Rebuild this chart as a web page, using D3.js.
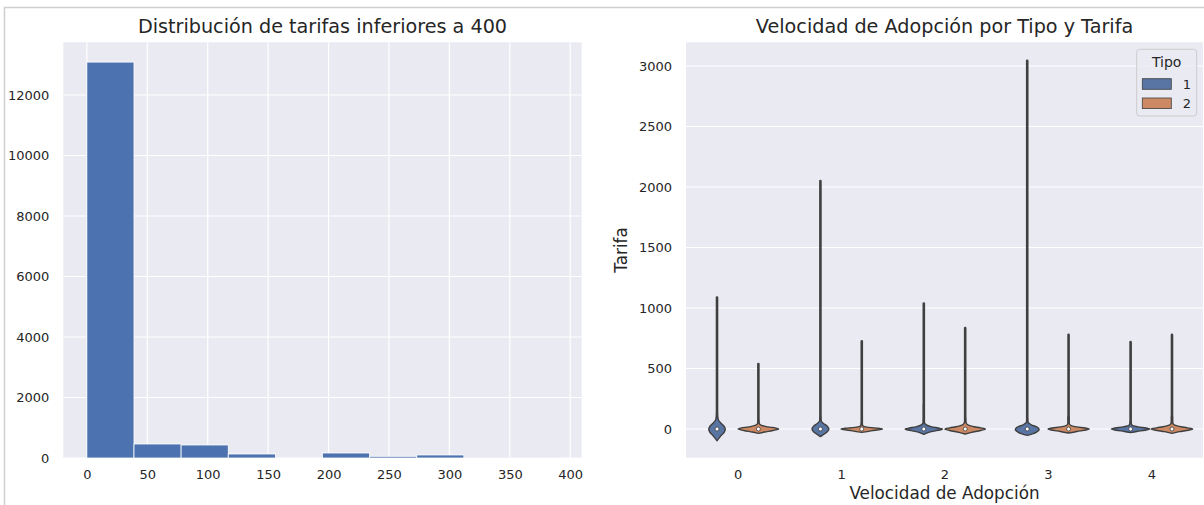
<!DOCTYPE html>
<html>
<head>
<meta charset="utf-8">
<script src="https://cdn.jsdelivr.net/npm/d3@7"></script>
<style>
  body { margin: 0; background: #fff; }
  svg { display: block; font-family: "DejaVu Sans", sans-serif; }
  .tick text { fill: #262626; }
</style>
</head>
<body>
<div id="chart"></div>
<script>
// ---- Histogram: tarifas < 400 ----
const binEdges = [0, 39, 78, 117, 156, 195, 234, 273, 312, 351, 390];
const binCounts = [13088, 463, 430, 132, 0, 165, 56, 100, 10, 6];
const histXTicks = [0, 50, 100, 150, 200, 250, 300, 350, 400];
const histYTicks = [0, 2000, 4000, 6000, 8000, 10000, 12000];

// ---- Violin: Velocidad de Adopción x Tipo ----
const speeds = [0, 1, 2, 3, 4];
const tipos = ["1", "2"];
const violinYTicks = [0, 500, 1000, 1500, 2000, 2500, 3000];
// highest Tarifa reached by each violin's thin tail
const tailTop1 = [1087, 2050, 1037, 3043, 718];
const tailTop2 = [537, 724, 834, 779, 779];
const medians1 = [0, 0, 0, 0, 0];
const medians2 = [0, 0, 0, 0, 0];
// body outline near zero: [Tarifa, relative half width]
const body1 = [
  [[-97, 0], [-75, 0.1], [-50, 0.22], [-25, 0.35], [0, 0.4], [25, 0.33], [50, 0.18], [75, 0.07], [100, 0.03], [150, 0.015]],
  [[-63, 0], [-45, 0.15], [-25, 0.32], [0, 0.41], [25, 0.32], [45, 0.15], [69, 0.03], [100, 0.015]],
  [[-44, 0], [-30, 0.2], [-15, 0.55], [-3, 0.88], [0, 0.9], [8, 0.7], [20, 0.35], [35, 0.12], [47, 0.04], [80, 0.02], [200, 0.02]],
  [[-52, 0], [-40, 0.25], [-25, 0.45], [-8, 0.57], [5, 0.55], [20, 0.42], [35, 0.2], [55, 0.04], [90, 0.015]],
  [[-30, 0], [-20, 0.3], [-10, 0.7], [0, 0.93], [8, 0.75], [18, 0.35], [33, 0.06], [60, 0.02]],
];
const body2 = [
  [[-36, 0], [-25, 0.3], [-12, 0.7], [0, 0.98], [8, 0.85], [18, 0.45], [30, 0.15], [44, 0.04], [70, 0.02]],
  [[-28, 0], [-15, 0.45], [-4, 0.9], [0, 1.0], [6, 0.8], [14, 0.35], [25, 0.06], [50, 0.02]],
  [[-41, 0], [-28, 0.3], [-12, 0.75], [0, 0.98], [10, 0.75], [22, 0.35], [35, 0.12], [52, 0.04], [90, 0.02]],
  [[-33, 0], [-20, 0.4], [-8, 0.85], [0, 1.0], [8, 0.8], [18, 0.4], [28, 0.12], [41, 0.04], [100, 0.03]],
  [[-36, 0], [-22, 0.35], [-10, 0.8], [0, 1.0], [10, 0.75], [22, 0.35], [35, 0.1], [47, 0.04], [100, 0.03]],
];

const W = 1204, H = 505;
const panelBg = "#eaeaf2";
const textCol = "#262626";
const outline = "#3f3f3f";
const tipoColors = ["#5975a4", "#cc8963"];

const svg = d3.select("#chart").append("svg").attr("width", W).attr("height", H);

// notebook cell border
svg.append("path")
  .attr("d", `M4.5,${H}V7.5H${W}`)
  .attr("fill", "none")
  .attr("stroke", "#cfcfcf")
  .attr("stroke-width", 1.5);

// ================= left: histogram =================
const hist = { left: 63.3, right: 581.7, top: 42.3, bottom: 458 };
const hg = svg.append("g");

const xMax = binEdges[binEdges.length - 1];
const hx = d3.scaleLinear()
  .domain([-0.05 * xMax, 1.05 * xMax])
  .range([hist.left, hist.right]);
const hy = d3.scaleLinear()
  .domain([0, d3.max(binCounts) * 1.05])
  .range([hist.bottom, hist.top]);

hg.append("rect")
  .attr("x", hist.left).attr("y", hist.top)
  .attr("width", hist.right - hist.left).attr("height", hist.bottom - hist.top)
  .attr("fill", panelBg);

// grid
hg.append("g").selectAll("line").data(histXTicks).join("line")
  .attr("x1", (d) => hx(d)).attr("x2", (d) => hx(d))
  .attr("y1", hist.top).attr("y2", hist.bottom)
  .attr("stroke", "#fff").attr("stroke-width", 1.2);
hg.append("g").selectAll("line").data(histYTicks).join("line")
  .attr("x1", hist.left).attr("x2", hist.right)
  .attr("y1", (d) => hy(d)).attr("y2", (d) => hy(d))
  .attr("stroke", "#fff").attr("stroke-width", 1.2);

// bars
hg.append("g").selectAll("rect").data(binCounts).join("rect")
  .attr("x", (d, i) => hx(binEdges[i]))
  .attr("width", (d, i) => hx(binEdges[i + 1]) - hx(binEdges[i]))
  .attr("y", (d) => hy(d))
  .attr("height", (d) => hy(0) - hy(d))
  .attr("fill", "#4c72b0")
  .attr("stroke", "#fff")
  .attr("stroke-width", d => d > 0 ? 0.8 : 0);

// axes
const hxAxis = hg.append("g")
  .attr("transform", `translate(0,${hist.bottom})`)
  .call(d3.axisBottom(hx).tickValues(histXTicks).tickSize(0).tickPadding(12));
const hyAxis = hg.append("g")
  .attr("transform", `translate(${hist.left},0)`)
  .call(d3.axisLeft(hy).tickValues(histYTicks).tickSize(0).tickPadding(14).tickFormat(d3.format("d")));
[hxAxis, hyAxis].forEach((a) => {
  a.select(".domain").remove();
  a.selectAll("text").attr("font-size", 13).attr("font-family", "DejaVu Sans");
});

hg.append("text")
  .attr("x", (hist.left + hist.right) / 2).attr("y", 33)
  .attr("text-anchor", "middle")
  .attr("font-size", 19.2).attr("fill", textCol)
  .text("Distribución de tarifas inferiores a 400");

// ================= right: violins =================
const vio = { left: 686, right: 1203, top: 42.3, bottom: 457.7 };
const vg = svg.append("g");

const vx = d3.scaleLinear().domain([-0.5, speeds.length - 0.5]).range([vio.left, vio.right]);
const vy = d3.scaleLinear().domain([-237, 3196]).range([vio.bottom, vio.top]);
const halfW = (vx(0.4) - vx(0)) / 2;
const dodge = [-0.2, 0.2];

vg.append("rect")
  .attr("x", vio.left).attr("y", vio.top)
  .attr("width", vio.right - vio.left).attr("height", vio.bottom - vio.top)
  .attr("fill", panelBg);

vg.append("g").selectAll("line").data(violinYTicks).join("line")
  .attr("x1", vio.left).attr("x2", vio.right)
  .attr("y1", (d) => vy(d)).attr("y2", (d) => vy(d))
  .attr("stroke", "#fff").attr("stroke-width", 1.2);

const violins = [];
speeds.forEach((s, i) => {
  violins.push({ speed: s, tipo: 0, body: body1[i], top: tailTop1[i], med: medians1[i] });
  violins.push({ speed: s, tipo: 1, body: body2[i], top: tailTop2[i], med: medians2[i] });
});

const vGroups = vg.append("g").selectAll("g").data(violins).join("g");

// thin tail
vGroups.append("line")
  .attr("x1", (d) => vx(d.speed + dodge[d.tipo]))
  .attr("x2", (d) => vx(d.speed + dodge[d.tipo]))
  .attr("y1", (d) => vy(0)).attr("y2", (d) => vy(d.top))
  .attr("stroke", outline).attr("stroke-width", 2.6)
  .attr("stroke-linecap", "round");

// body
vGroups.append("path")
  .attr("d", (d) => {
    const cx = vx(d.speed + dodge[d.tipo]);
    return d3.area()
      .curve(d3.curveCatmullRom)
      .y((p) => vy(p[0]))
      .x0((p) => cx - p[1] * halfW)
      .x1((p) => cx + p[1] * halfW)(d.body);
  })
  .attr("fill", (d) => tipoColors[d.tipo])
  .attr("stroke", outline).attr("stroke-width", 1.4)
  .attr("stroke-linejoin", "round");

// median dot
vGroups.append("circle")
  .attr("cx", (d) => vx(d.speed + dodge[d.tipo]))
  .attr("cy", (d) => vy(d.med))
  .attr("r", 2)
  .attr("fill", "#fff")
  .attr("stroke", outline).attr("stroke-width", 0.8);

const vxAxis = vg.append("g")
  .attr("transform", `translate(0,${vio.bottom})`)
  .call(d3.axisBottom(vx).tickValues(speeds).tickSize(0).tickPadding(12).tickFormat(d3.format("d")));
const vyAxis = vg.append("g")
  .attr("transform", `translate(${vio.left},0)`)
  .call(d3.axisLeft(vy).tickValues(violinYTicks).tickSize(0).tickPadding(14).tickFormat(d3.format("d")));
[vxAxis, vyAxis].forEach((a) => {
  a.select(".domain").remove();
  a.selectAll("text").attr("font-size", 13).attr("font-family", "DejaVu Sans");
});

vg.append("text")
  .attr("x", (vio.left + vio.right) / 2).attr("y", 33)
  .attr("text-anchor", "middle")
  .attr("font-size", 19.2).attr("fill", textCol)
  .text("Velocidad de Adopción por Tipo y Tarifa");

vg.append("text")
  .attr("x", (vio.left + vio.right) / 2).attr("y", 499)
  .attr("text-anchor", "middle")
  .attr("font-size", 16.8).attr("fill", textCol)
  .text("Velocidad de Adopción");

vg.append("text")
  .attr("transform", `translate(627,${(vio.top + vio.bottom) / 2}) rotate(-90)`)
  .attr("text-anchor", "middle")
  .attr("font-size", 16.8).attr("fill", textCol)
  .text("Tarifa");

// legend
const lg = vg.append("g").attr("transform", `translate(${vio.right - 66.3},${vio.top + 7})`);
lg.append("rect")
  .attr("width", 60).attr("height", 66.7).attr("rx", 3)
  .attr("fill", panelBg).attr("fill-opacity", 0.8)
  .attr("stroke", "#cccccc").attr("stroke-width", 1);
lg.append("text")
  .attr("x", 30).attr("y", 17.5)
  .attr("text-anchor", "middle")
  .attr("font-size", 14).attr("fill", textCol)
  .text("Tipo");
const items = lg.selectAll("g.item").data(tipos).join("g")
  .attr("class", "item")
  .attr("transform", (d, i) => `translate(5.6,${29.4 + i * 19.3})`);
items.append("rect")
  .attr("width", 29).attr("height", 10.6)
  .attr("fill", (d, i) => tipoColors[i])
  .attr("stroke", outline).attr("stroke-width", 0.8);
items.append("text")
  .attr("x", 44.5).attr("y", 10)
  .attr("text-anchor", "middle")
  .attr("font-size", 13).attr("fill", textCol)
  .text((d) => d);
</script>
</body>
</html>
